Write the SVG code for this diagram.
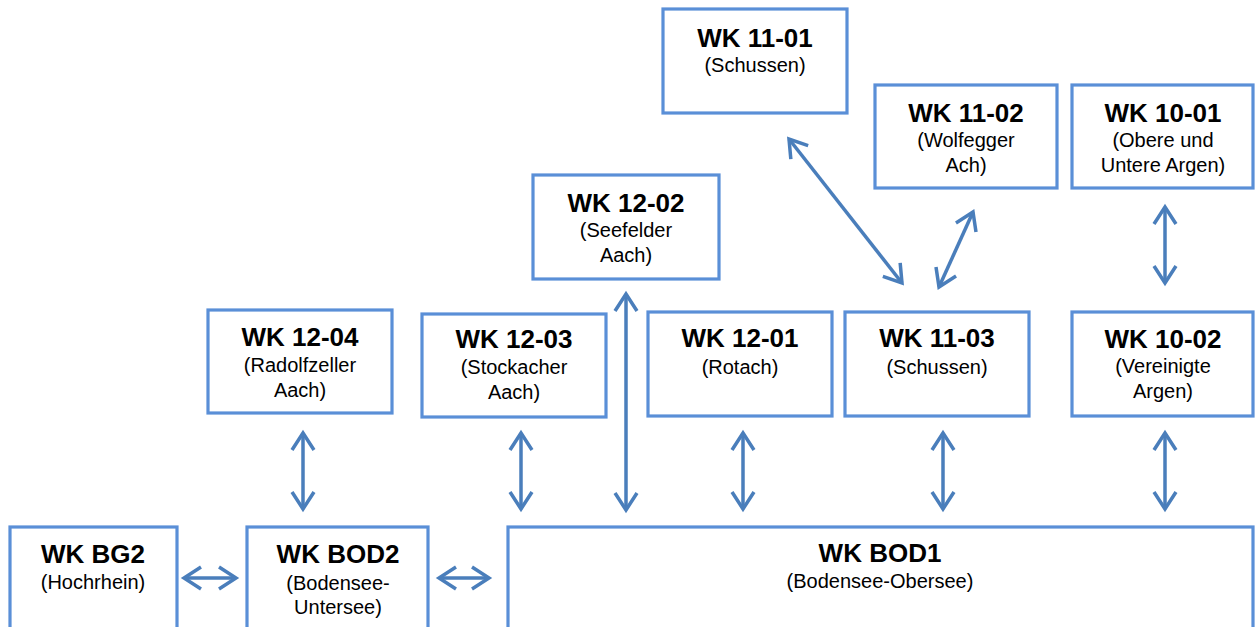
<svg xmlns="http://www.w3.org/2000/svg" width="1255" height="627" viewBox="0 0 1255 627">
<style>
.box{fill:#fff;stroke:#5a8fd7;stroke-width:3.2}
.t{font-family:"Liberation Sans",Arial,sans-serif;font-weight:bold;font-size:26px;fill:#000;text-anchor:middle}
.s{font-family:"Liberation Sans",Arial,sans-serif;font-size:20px;fill:#000;text-anchor:middle}
.c{fill:none;stroke:#4a7ebb;stroke-width:3.5}
</style>
<defs>
<marker id="ah" markerUnits="userSpaceOnUse" viewBox="-20 -14 24 28" refX="0" refY="0" markerWidth="24" markerHeight="28" orient="auto-start-reverse">
<path d="M-17,-11 L0,0 L-17,11" fill="none" stroke="#4a7ebb" stroke-width="3.5"/>
</marker>
</defs>
<g id="wk1101"><rect class="box" x="663" y="9" width="184" height="104"/><text class="t" x="755" y="47">WK 11-01</text><text class="s" x="755" y="72">(Schussen)</text></g>
<g id="wk1102"><rect class="box" x="875" y="85" width="182" height="103"/><text class="t" x="966" y="122">WK 11-02</text><text class="s" x="966" y="147">(Wolfegger</text><text class="s" x="966" y="172">Ach)</text></g>
<g id="wk1001"><rect class="box" x="1072" y="85" width="181" height="103"/><text class="t" x="1163" y="122">WK 10-01</text><text class="s" x="1163" y="147">(Obere und</text><text class="s" x="1163" y="172">Untere Argen)</text></g>
<g id="wk1202"><rect class="box" x="533" y="175" width="186" height="104"/><text class="t" x="626" y="212">WK 12-02</text><text class="s" x="626" y="237">(Seefelder</text><text class="s" x="626" y="262">Aach)</text></g>
<g id="wk1204"><rect class="box" x="208" y="310" width="184" height="103"/><text class="t" x="300" y="346">WK 12-04</text><text class="s" x="300" y="372">(Radolfzeller</text><text class="s" x="300" y="397">Aach)</text></g>
<g id="wk1203"><rect class="box" x="422" y="314" width="184" height="103"/><text class="t" x="514" y="348">WK 12-03</text><text class="s" x="514" y="374">(Stockacher</text><text class="s" x="514" y="399">Aach)</text></g>
<g id="wk1201"><rect class="box" x="648" y="312" width="184" height="104"/><text class="t" x="740" y="347">WK 12-01</text><text class="s" x="740" y="374">(Rotach)</text></g>
<g id="wk1103"><rect class="box" x="845" y="312" width="184" height="104"/><text class="t" x="937" y="347">WK 11-03</text><text class="s" x="937" y="374">(Schussen)</text></g>
<g id="wk1002"><rect class="box" x="1072" y="312" width="181" height="104"/><text class="t" x="1163" y="348">WK 10-02</text><text class="s" x="1163" y="373">(Vereinigte</text><text class="s" x="1163" y="398">Argen)</text></g>
<g id="wkbg2"><rect class="box" x="10" y="527" width="167" height="110"/><text class="t" x="93" y="563">WK BG2</text><text class="s" x="93" y="589">(Hochrhein)</text></g>
<g id="wkbod2"><rect class="box" x="247" y="527" width="181" height="110"/><text class="t" x="338" y="563">WK BOD2</text><text class="s" x="338" y="590">(Bodensee-</text><text class="s" x="338" y="614">Untersee)</text></g>
<g id="wkbod1"><rect class="box" x="508" y="527" width="745" height="110"/><text class="t" x="880" y="562">WK BOD1</text><text class="s" x="880" y="588">(Bodensee-Obersee)</text></g>
<g id="connectors">
<line class="c" x1="184" y1="578" x2="236" y2="578" marker-start="url(#ah)" marker-end="url(#ah)"/>
<line class="c" x1="439" y1="578" x2="489" y2="578" marker-start="url(#ah)" marker-end="url(#ah)"/>
<line class="c" x1="303" y1="433" x2="303" y2="509" marker-start="url(#ah)" marker-end="url(#ah)"/>
<line class="c" x1="521" y1="433" x2="521" y2="509" marker-start="url(#ah)" marker-end="url(#ah)"/>
<line class="c" x1="626" y1="294" x2="626" y2="510" marker-start="url(#ah)" marker-end="url(#ah)"/>
<line class="c" x1="743" y1="433" x2="743" y2="509" marker-start="url(#ah)" marker-end="url(#ah)"/>
<line class="c" x1="943" y1="433" x2="943" y2="509" marker-start="url(#ah)" marker-end="url(#ah)"/>
<line class="c" x1="1165" y1="433" x2="1165" y2="509" marker-start="url(#ah)" marker-end="url(#ah)"/>
<line class="c" x1="1165" y1="207" x2="1165" y2="283" marker-start="url(#ah)" marker-end="url(#ah)"/>
<line class="c" x1="789" y1="139" x2="902" y2="283" marker-start="url(#ah)" marker-end="url(#ah)"/>
<line class="c" x1="973" y1="212" x2="939" y2="287" marker-start="url(#ah)" marker-end="url(#ah)"/>
</g>
</svg>
